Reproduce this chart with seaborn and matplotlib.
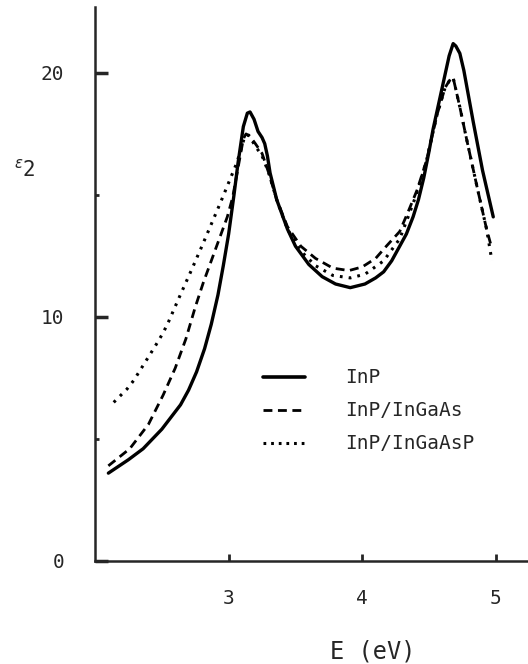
import numpy as np
import pandas as pd
import matplotlib
matplotlib.use("Agg")
import matplotlib.pyplot as plt
from matplotlib.lines import Line2D
import seaborn as sns

# epsilon_2 spectra
inp_e = [2.10, 2.25, 2.36, 2.50, 2.64, 2.70, 2.76, 2.82, 2.87, 2.92, 2.96, 3.00, 3.04, 3.07,
         3.11, 3.14, 3.16, 3.19, 3.22, 3.25, 3.27, 3.29, 3.31, 3.36, 3.44, 3.50, 3.60, 3.70,
         3.80, 3.91, 4.02, 4.10, 4.16, 4.22, 4.28, 4.33, 4.38, 4.42, 4.46, 4.50, 4.53, 4.57,
         4.61, 4.65, 4.68, 4.70, 4.73, 4.76, 4.83, 4.90, 4.98]
inp_eps = [3.6, 4.15, 4.6, 5.4, 6.4, 7.0, 7.75, 8.7, 9.7, 10.9, 12.1, 13.4, 15.0, 16.3,
           17.8, 18.35, 18.4, 18.1, 17.6, 17.35, 17.1, 16.6, 15.9, 14.8, 13.6, 12.9, 12.15, 11.65,
           11.35, 11.2, 11.35, 11.6, 11.85, 12.3, 12.9, 13.4, 14.1, 14.8, 15.7, 16.8, 17.7, 18.7,
           19.7, 20.7, 21.2, 21.1, 20.8, 20.1, 18.0, 16.0, 14.1]

ingaas_e = [2.10, 2.26, 2.40, 2.51, 2.60, 2.68, 2.75, 2.81, 2.87, 2.93, 2.99, 3.03, 3.06,
            3.09, 3.11, 3.13, 3.16, 3.20, 3.25, 3.30, 3.36, 3.44, 3.54, 3.65, 3.78, 3.90,
            4.00, 4.10, 4.18, 4.28, 4.35, 4.41, 4.48, 4.56, 4.62, 4.66, 4.68, 4.73, 4.78,
            4.86, 4.93, 4.96]
ingaas_eps = [3.9, 4.6, 5.6, 6.8, 7.9, 9.1, 10.4, 11.4, 12.3, 13.2, 14.1, 14.9, 15.8,
              16.7, 17.3, 17.5, 17.4, 17.1, 16.7, 15.9, 14.8, 13.7, 12.9, 12.4, 12.0, 11.9,
              12.05, 12.4, 12.9, 13.5, 14.4, 15.2, 16.4, 18.3, 19.4, 19.75, 19.8, 18.6, 17.3,
              15.3, 13.6, 13.0]

ingaasp_e = [2.14, 2.24, 2.29, 2.37, 2.45, 2.51, 2.55, 2.63, 2.72, 2.80, 2.87, 2.94, 3.00,
             3.06, 3.10, 3.12, 3.15, 3.20, 3.25, 3.30, 3.36, 3.44, 3.54, 3.65, 3.78, 3.91,
             4.02, 4.16, 4.28, 4.35, 4.41, 4.48, 4.56, 4.62, 4.66, 4.68, 4.73, 4.78, 4.86,
             4.93, 4.97]
ingaasp_eps = [6.5, 7.05, 7.4, 8.1, 8.8, 9.35, 9.8, 10.8, 11.9, 12.9, 13.8, 14.7, 15.5,
               16.3, 17.0, 17.4, 17.45, 17.0, 16.6, 15.9, 14.8, 13.6, 12.7, 12.1, 11.7, 11.6,
               11.75, 12.3, 13.2, 14.2, 15.1, 16.4, 18.3, 19.4, 19.75, 19.8, 18.6, 17.3, 15.3,
               13.6, 12.3]

labels = ["InP", "InP/InGaAs", "InP/InGaAsP"]

df = pd.concat([
    pd.DataFrame({"E": inp_e, "eps2": inp_eps, "sample": labels[0]}),
    pd.DataFrame({"E": ingaas_e, "eps2": ingaas_eps, "sample": labels[1]}),
    pd.DataFrame({"E": ingaasp_e, "eps2": ingaasp_eps, "sample": labels[2]}),
])

sns.set_style("ticks")
plt.rcParams["font.family"] = ["DejaVu Sans Mono", "DejaVu Sans"]

fig = plt.figure(figsize=(5.28, 6.64), dpi=100)
ax = fig.add_axes([95 / 528, 1 - 561 / 664, (528 - 95) / 528, (561 - 7) / 664])

widths = {labels[0]: 2.4, labels[1]: 2.0, labels[2]: 2.2}
sns.lineplot(data=df, x="E", y="eps2", style="sample", style_order=labels,
             dashes={labels[0]: "", labels[1]: (3.2, 2.0), labels[2]: (0.9, 2.0)},
             color="black", estimator=None, sort=True, ax=ax, legend=False)
for line, lab in zip(ax.get_lines(), labels):
    line.set_linewidth(widths[lab])

ax.set_xlim(2, 5.24)
ax.set_ylim(0, 22.7)
ax.set_xticks([3, 4, 5])
ax.set_yticks([0, 10, 20])
ax.set_yticks([5, 15], minor=True)
ax.tick_params(axis="y", which="major", direction="in", length=9, width=2.5, pad=22, labelsize=14)
ax.tick_params(axis="y", which="minor", direction="in", length=3, width=2)
ax.tick_params(axis="x", which="major", direction="in", length=5, width=2, pad=20, labelsize=14)
for s in ["left", "bottom"]:
    ax.spines[s].set_linewidth(1.8)
sns.despine(ax=ax)

ax.set_xlabel("E (eV)", fontsize=17)
ax.xaxis.set_label_coords((373 - 95) / 433, -(640 - 561) / 554)
ax.set_ylabel(r"$^{\epsilon}$2", rotation=0, fontsize=15)
ax.yaxis.set_label_coords(-(97 - 27) / 433, (561 - 180) / 554)

handles = [Line2D([], [], color="black", lw=2.6),
           Line2D([], [], color="black", lw=2.0, dashes=(3.2, 2.0)),
           Line2D([], [], color="black", lw=2.2, dashes=(0.9, 1.6))]
ax.legend(handles, labels, loc="center left", bbox_to_anchor=((263 - 95) / 433, (561 - 411) / 554),
          frameon=False, fontsize=14, handlelength=2.17, handletextpad=2.05,
          labelspacing=0.72, borderpad=0, borderaxespad=0)

plt.savefig("out.png", dpi=100)
